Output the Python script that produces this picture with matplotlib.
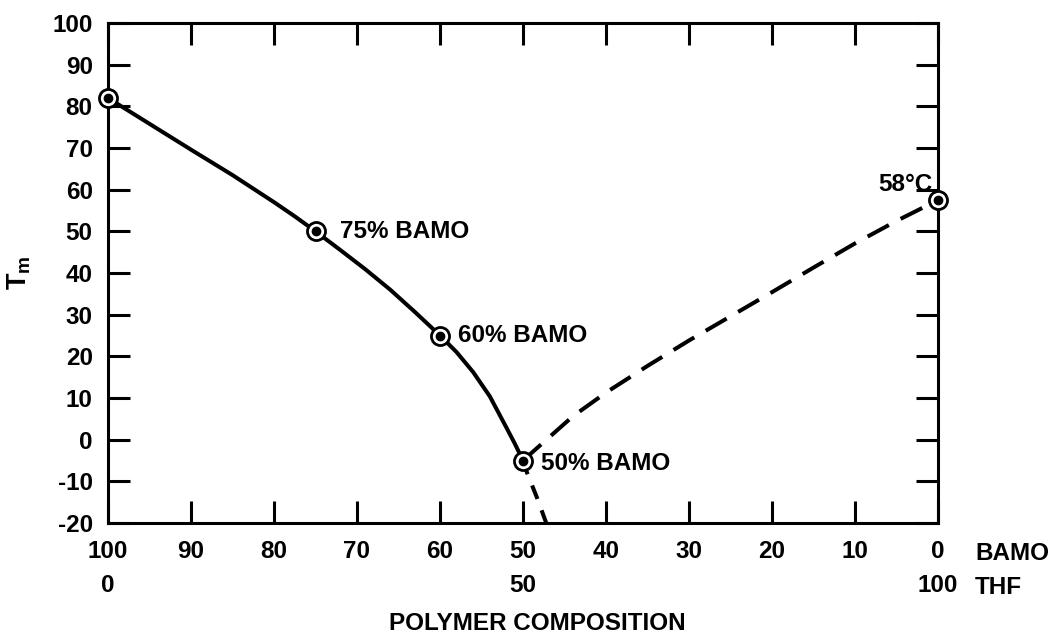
import matplotlib
matplotlib.use("Agg")
import matplotlib.pyplot as plt
import matplotlib.transforms as mtransforms

plt.rcParams['font.family'] = ['Liberation Sans', 'DejaVu Sans']
plt.rcParams['axes.unicode_minus'] = False

# Measured data points (BAMO %, Tm in °C)
pts_bamo = [100, 75, 60, 50, 0]
pts_tm = [82, 50, 25, -5, 57.5]
pt_labels = ["", "75% BAMO", "60% BAMO", "50% BAMO", "58°C"]

# Solid curve
solid_bamo = [100, 95, 90, 85, 80, 77.5, 75, 72, 69, 66, 63, 60, 58, 56, 54, 52, 51, 50]
solid_tm = [82, 75.8, 69.6, 63.5, 57.0, 53.6, 50, 45.5, 40.9, 36.0, 30.6, 25, 21, 16.2, 10.4, 2.9, -0.9, -5]

# Dashed extension below 50% BAMO
down_bamo = [50, 49.5, 48.3, 47.2]
down_tm = [-5, -8, -14, -20]

# Dashed line towards pure BAMO
right_bamo = [50, 47, 44, 40, 35, 30, 25, 20, 15, 10, 5, 0]
right_tm = [-5, 0.3, 5.6, 11.3, 17.7, 23.8, 29.6, 35.4, 41.3, 47.1, 52.5, 57.5]

xticks = [100, 90, 80, 70, 60, 50, 40, 30, 20, 10, 0]
xtick_labels = ["100", "90", "80", "70", "60", "50", "40", "30", "20", "10", "0"]
thf_pos = [100, 50, 0]
thf_labels = ["0", "50", "100"]
yticks = [100, 90, 80, 70, 60, 50, 40, 30, 20, 10, 0, -10, -20]

fig = plt.figure(figsize=(10.6, 6.43), dpi=100)
ax = fig.add_axes([108/1060, 1-523/643, (938-108)/1060, 500/643])

lw = 2.9
ax.plot(solid_bamo, solid_tm, color='black', lw=lw, solid_joinstyle='round',
        solid_capstyle='round', zorder=2)
ax.plot(down_bamo, down_tm, color='black', lw=lw, dashes=(3.6, 3), zorder=2)
ax.plot(right_bamo, right_tm, color='black', lw=lw, dashes=(6, 3.3),
        dash_joinstyle='round', zorder=2)

ax.plot(pts_bamo, pts_tm, linestyle='none', marker='o', markersize=13,
        markerfacecolor='white', markeredgecolor='black', markeredgewidth=2.0,
        zorder=4, clip_on=False)
ax.plot(pts_bamo, pts_tm, linestyle='none', marker='o', markersize=6,
        markerfacecolor='black', markeredgecolor='black', zorder=5, clip_on=False)

fs = 17.5
offsets = {"75% BAMO": (18, 0, 'left'), "60% BAMO": (13, 0, 'left'),
           "50% BAMO": (13, -2, 'left'), "58°C": (-4, 11.5, 'right')}
for b, t, lab in zip(pts_bamo, pts_tm, pt_labels):
    if not lab:
        continue
    dx, dy, ha = offsets[lab]
    ax.annotate(lab, (b, t), xytext=(dx, dy), textcoords='offset points',
                ha=ha, va='center', fontsize=fs, fontweight='bold')

ax.set_xlim(100, 0)
ax.set_ylim(-20, 100)
ax.set_xticks(xticks)
ax.set_xticklabels(xtick_labels)
ax.set_yticks(yticks)
ax.tick_params(axis='both', direction='in', length=16, width=2.2,
               top=True, right=True, labelsize=fs)
ax.tick_params(axis='x', pad=12)
ax.tick_params(axis='y', pad=11)
for lab in ax.get_xticklabels() + ax.get_yticklabels():
    lab.set_fontweight('bold')
for s in ax.spines.values():
    s.set_linewidth(2.2)

trans = mtransforms.blended_transform_factory(ax.transData, ax.transAxes)
for p, l in zip(thf_pos, thf_labels):
    ax.text(p, -0.124, l, transform=trans, ha='center', va='center',
            fontsize=fs, fontweight='bold')

fig.text(975/1060, 1-553/643, "BAMO", ha='left', va='center', fontsize=fs, fontweight='bold')
fig.text(975/1060, 1-587/643, "THF", ha='left', va='center', fontsize=fs, fontweight='bold')
fig.text(537/1060, 1-623/643, "POLYMER COMPOSITION", ha='center', va='center',
         fontsize=fs, fontweight='bold')

ax.set_ylabel("T$_\\mathregular{m}$", fontsize=fs+2, fontweight='bold', labelpad=14)

fig.savefig("out.png", dpi=100)
